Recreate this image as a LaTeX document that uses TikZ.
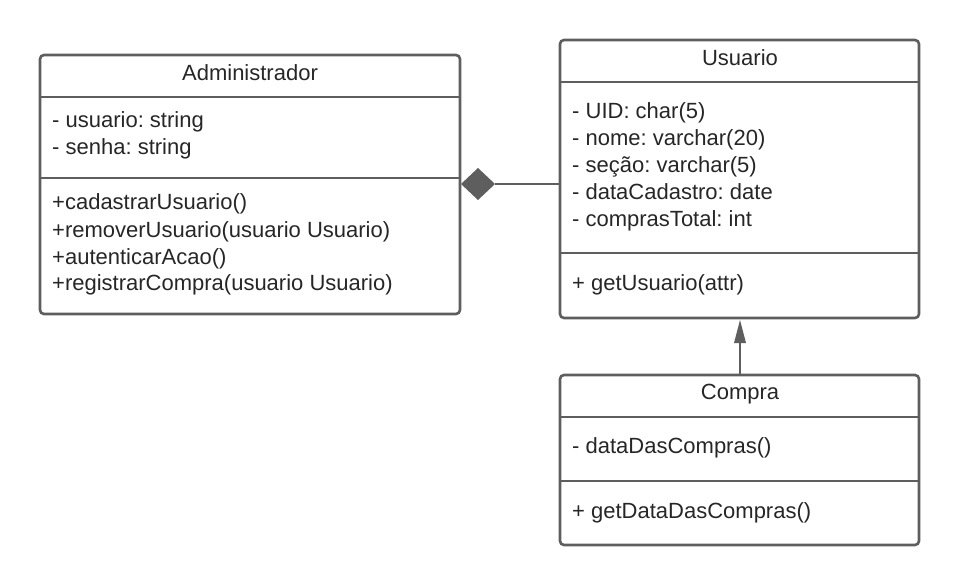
\documentclass[tikz,border=0pt]{standalone}
\usepackage{fontspec}
\setmainfont{Liberation Sans}
\frenchspacing
\begin{document}
\begin{tikzpicture}[x=1pt,y=-1pt,
  box/.style={draw=lc, line width=2.6pt, rounded corners=4pt},
  sep/.style={draw=lc, line width=2.4pt},
  txt/.style={anchor=base west, inner sep=0pt, font=\fontsize{22}{27}\selectfont\frenchspacing, text=black!85},
  ttl/.style={anchor=base, inner sep=0pt, font=\fontsize{22}{27}\selectfont, text=black!85}]
\definecolor{lc}{HTML}{5E5E5E}
\useasboundingbox (0,0) rectangle (960,585);
% Administrador
\draw[box] (40,55) rectangle (460,314);
\draw[sep] (40,97) -- (460,97);
\draw[sep] (40,178) -- (460,178);
\node[ttl] (admt) at (250,80.5) {Administrador};
\node[txt] (a1) at (52,128) {- usuario: string};
\node[txt] (a2) at (52,155) {- senha: string};
\node[txt] (a3) at (52,210) {+cadastrarUsuario()};
\node[txt] (a4) at (52,237) {+removerUsuario(usuario Usuario)};
\node[txt] (a5) at (52,264) {+autenticarAcao()};
\node[txt] (a6) at (52,290) {+registrarCompra(usuario Usuario)};
% Usuario
\draw[box] (560,40) rectangle (919,318);
\draw[sep] (560,82) -- (919,82);
\draw[sep] (560,253) -- (919,253);
\node[ttl] (ust) at (740,66) {Usuario};
\node[txt] (u1) at (572,118.5) {- UID: char(5)};
\node[txt] (u2) at (572,145.5) {- nome: varchar(20)};
\node[txt] (u3) at (572,172.5) {- seção: varchar(5)};
\node[txt] (u4) at (572,199.5) {- dataCadastro: date};
\node[txt] (u5) at (572,226.5) {- comprasTotal: int};
\node[txt] (u6) at (572,290) {+ getUsuario(attr)};
% Compra
\draw[box] (560,375) rectangle (919,545);
\draw[sep] (560,417) -- (919,417);
\draw[sep] (560,481) -- (919,481);
\node[ttl] (cpt) at (740,399.5) {Compra};
\node[txt] (c1) at (572,453) {- dataDasCompras()};
\node[txt] (c2) at (572,518) {+ getDataDasCompras()};
% connectors
\coordinate (adm) at (461,184);
\coordinate (usl) at (560,184);
\coordinate (dr) at (495,184);
\fill[lc] (adm) -- (478,168) -- (dr) -- (478,200) -- cycle;
\draw[lc, line width=2.4pt] (dr) -- (usl);
\coordinate (ub) at (740,320);
\coordinate (ct) at (740,375);
\coordinate (ah) at (740,342);
\draw[lc, line width=2.4pt] (ct) -- (ah);
\fill[lc] (ub) -- (746,343) -- (734,343) -- cycle;
\end{tikzpicture}
\end{document}
